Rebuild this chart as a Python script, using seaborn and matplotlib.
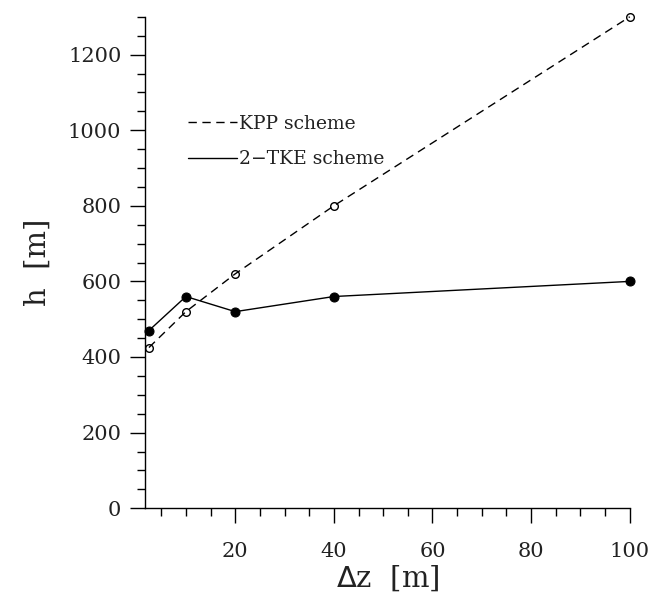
import numpy as np
import pandas as pd
import seaborn as sns
import matplotlib.pyplot as plt
from matplotlib.lines import Line2D
from matplotlib.ticker import MultipleLocator

sns.set_style("ticks")
plt.rcParams['font.family'] = ['DejaVu Serif']

# Values
dz = [2.5, 10, 20, 40, 100]
h_kpp = [425, 520, 620, 800, 1300]
h_tke = [470, 560, 520, 560, 600]

df_kpp = pd.DataFrame({"dz": dz, "h": h_kpp})
df_tke = pd.DataFrame({"dz": dz, "h": h_tke})

fig = plt.figure(figsize=(6.56, 6.00), dpi=100)
ax = fig.add_axes([0.221, 0.153, 0.739, 0.819])

# KPP: dashed line, open circles
sns.lineplot(data=df_kpp, x="dz", y="h", ax=ax, color="black", linewidth=1.0,
             linestyle=(0, (6, 4)), marker="o", markersize=5.5,
             markerfacecolor="none", markeredgecolor="black", markeredgewidth=1.0,
             clip_on=False)
# 2-TKE: solid line, filled circles
sns.lineplot(data=df_tke, x="dz", y="h", ax=ax, color="black", linewidth=1.0,
             linestyle="-", marker="o", markersize=6.5,
             markerfacecolor="black", markeredgecolor="black", clip_on=False)

ax.set_xlim(1.7, 100)
ax.set_ylim(0, 1300)
ax.xaxis.set_major_locator(MultipleLocator(20))
ax.xaxis.set_minor_locator(MultipleLocator(5))
ax.yaxis.set_major_locator(MultipleLocator(200))
ax.yaxis.set_minor_locator(MultipleLocator(50))
ax.set_xticks([20, 40, 60, 80, 100])
ax.tick_params(which="major", direction="out", length=11, width=1.0, labelsize=15,
               pad=6, colors="black", labelcolor="#222222")
ax.tick_params(which="minor", direction="out", length=6, width=1.0, colors="black")
ax.xaxis.set_tick_params(pad=13)

sns.despine(ax=ax)
for s in ["left", "bottom"]:
    ax.spines[s].set_linewidth(1.0)
    ax.spines[s].set_color("black")

ax.set_xlabel(r"$\Delta$z  [m]", fontsize=21, labelpad=2, color="#222222")
ax.set_ylabel("h  [m]", fontsize=21, labelpad=12, color="#222222")

handles = [Line2D([], [], color="black", lw=1.0, linestyle=(0, (6, 4))),
           Line2D([], [], color="black", lw=1.0, linestyle="-")]
leg = ax.legend(handles, ["KPP scheme", "2\u2212TKE scheme"], loc="upper left",
                bbox_to_anchor=(0.07, 0.82), frameon=False, fontsize=13.5,
                handlelength=2.6, handletextpad=0.1, labelspacing=0.95, borderpad=0)
for t in leg.get_texts():
    t.set_color("#222222")

fig.savefig("out.png", dpi=100)
